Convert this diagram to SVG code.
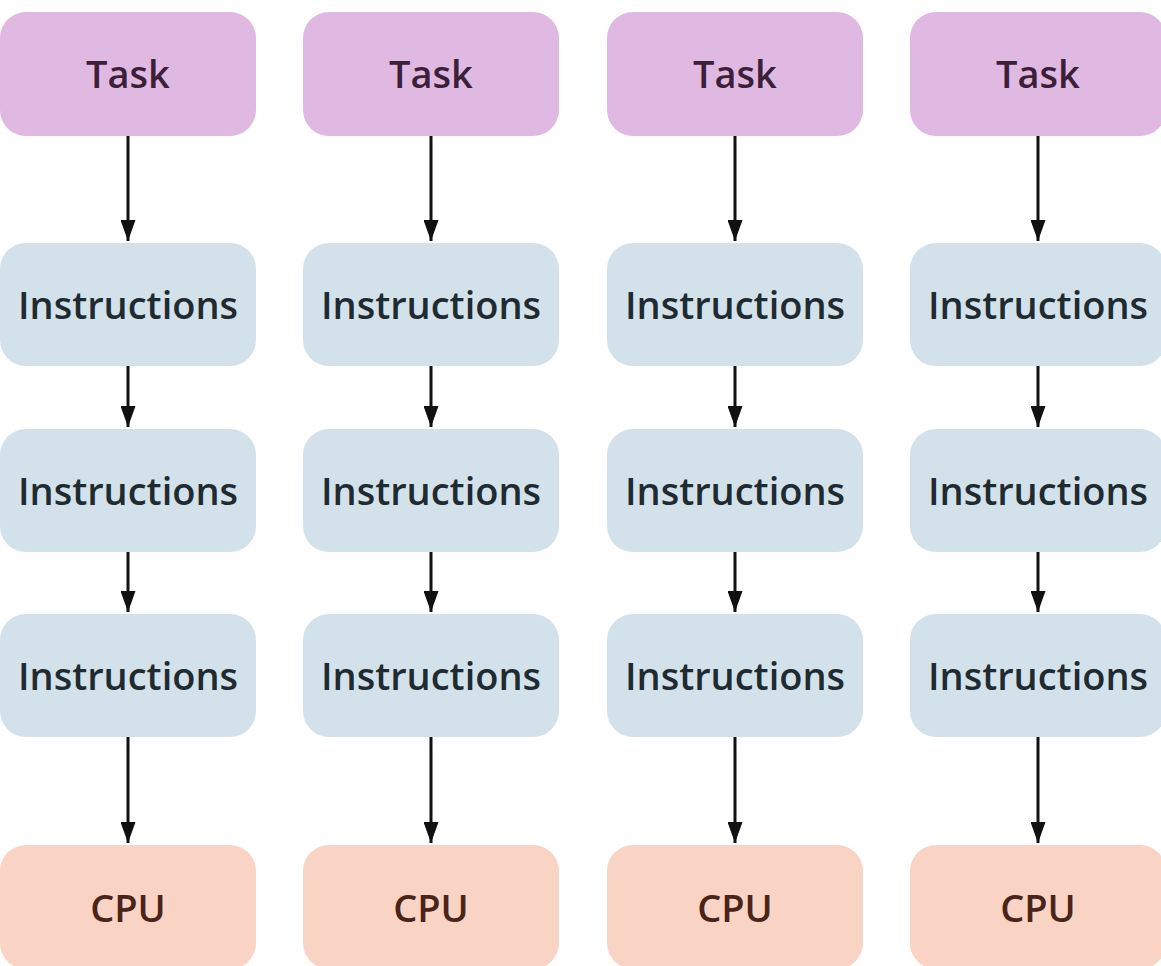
<svg xmlns="http://www.w3.org/2000/svg" width="1161" height="966" viewBox="0 0 1161 966">
<style>
.task rect{fill:#e0b9e2}
.ins rect{fill:#d3e2ea}
.cpu rect{fill:#f9d3c4}
text{font-family:"Open Sans","Noto Sans","DejaVu Sans",sans-serif;font-size:38px;font-weight:600;text-anchor:middle}
.task text{fill:#3b2038}
.ins text{fill:#1f2b31}
.cpu text{fill:#4a2419}
.conn line{stroke:#111;stroke-width:3}
</style>
<defs>
<marker id="ah" viewBox="0 0 10 10" refX="10" refY="5" markerWidth="7" markerHeight="5" markerUnits="strokeWidth" orient="auto" preserveAspectRatio="none">
<path d="M0,0 L10,5 L0,10 z" fill="#111"/>
</marker>
</defs>
<rect width="1161" height="966" fill="#ffffff"/>
<g id="col1-task" class="task"><rect x="0" y="12" width="256" height="124" rx="26"/><text x="128" y="88">Task</text></g>
<g id="col2-task" class="task"><rect x="303" y="12" width="256" height="124" rx="26"/><text x="431" y="88">Task</text></g>
<g id="col3-task" class="task"><rect x="607" y="12" width="256" height="124" rx="26"/><text x="735" y="88">Task</text></g>
<g id="col4-task" class="task"><rect x="910" y="12" width="256" height="124" rx="26"/><text x="1038" y="88">Task</text></g>

<g id="col1-ins1" class="ins"><rect x="0" y="243" width="256" height="123" rx="26"/><text x="128" y="319">Instructions</text></g>
<g id="col2-ins1" class="ins"><rect x="303" y="243" width="256" height="123" rx="26"/><text x="431" y="319">Instructions</text></g>
<g id="col3-ins1" class="ins"><rect x="607" y="243" width="256" height="123" rx="26"/><text x="735" y="319">Instructions</text></g>
<g id="col4-ins1" class="ins"><rect x="910" y="243" width="256" height="123" rx="26"/><text x="1038" y="319">Instructions</text></g>

<g id="col1-ins2" class="ins"><rect x="0" y="429" width="256" height="123" rx="26"/><text x="128" y="505">Instructions</text></g>
<g id="col2-ins2" class="ins"><rect x="303" y="429" width="256" height="123" rx="26"/><text x="431" y="505">Instructions</text></g>
<g id="col3-ins2" class="ins"><rect x="607" y="429" width="256" height="123" rx="26"/><text x="735" y="505">Instructions</text></g>
<g id="col4-ins2" class="ins"><rect x="910" y="429" width="256" height="123" rx="26"/><text x="1038" y="505">Instructions</text></g>

<g id="col1-ins3" class="ins"><rect x="0" y="614" width="256" height="123" rx="26"/><text x="128" y="690">Instructions</text></g>
<g id="col2-ins3" class="ins"><rect x="303" y="614" width="256" height="123" rx="26"/><text x="431" y="690">Instructions</text></g>
<g id="col3-ins3" class="ins"><rect x="607" y="614" width="256" height="123" rx="26"/><text x="735" y="690">Instructions</text></g>
<g id="col4-ins3" class="ins"><rect x="910" y="614" width="256" height="123" rx="26"/><text x="1038" y="690">Instructions</text></g>

<g id="col1-cpu" class="cpu"><rect x="0" y="845" width="256" height="124" rx="26"/><text x="128" y="922">CPU</text></g>
<g id="col2-cpu" class="cpu"><rect x="303" y="845" width="256" height="124" rx="26"/><text x="431" y="922">CPU</text></g>
<g id="col3-cpu" class="cpu"><rect x="607" y="845" width="256" height="124" rx="26"/><text x="735" y="922">CPU</text></g>
<g id="col4-cpu" class="cpu"><rect x="910" y="845" width="256" height="124" rx="26"/><text x="1038" y="922">CPU</text></g>

<g id="connectors" class="conn">
<line x1="128" y1="136" x2="128" y2="241" marker-end="url(#ah)"/>
<line x1="431" y1="136" x2="431" y2="241" marker-end="url(#ah)"/>
<line x1="735" y1="136" x2="735" y2="241" marker-end="url(#ah)"/>
<line x1="1038" y1="136" x2="1038" y2="241" marker-end="url(#ah)"/>
<line x1="128" y1="366" x2="128" y2="427" marker-end="url(#ah)"/>
<line x1="431" y1="366" x2="431" y2="427" marker-end="url(#ah)"/>
<line x1="735" y1="366" x2="735" y2="427" marker-end="url(#ah)"/>
<line x1="1038" y1="366" x2="1038" y2="427" marker-end="url(#ah)"/>
<line x1="128" y1="552" x2="128" y2="612" marker-end="url(#ah)"/>
<line x1="431" y1="552" x2="431" y2="612" marker-end="url(#ah)"/>
<line x1="735" y1="552" x2="735" y2="612" marker-end="url(#ah)"/>
<line x1="1038" y1="552" x2="1038" y2="612" marker-end="url(#ah)"/>
<line x1="128" y1="737" x2="128" y2="843" marker-end="url(#ah)"/>
<line x1="431" y1="737" x2="431" y2="843" marker-end="url(#ah)"/>
<line x1="735" y1="737" x2="735" y2="843" marker-end="url(#ah)"/>
<line x1="1038" y1="737" x2="1038" y2="843" marker-end="url(#ah)"/>
</g>
</svg>
